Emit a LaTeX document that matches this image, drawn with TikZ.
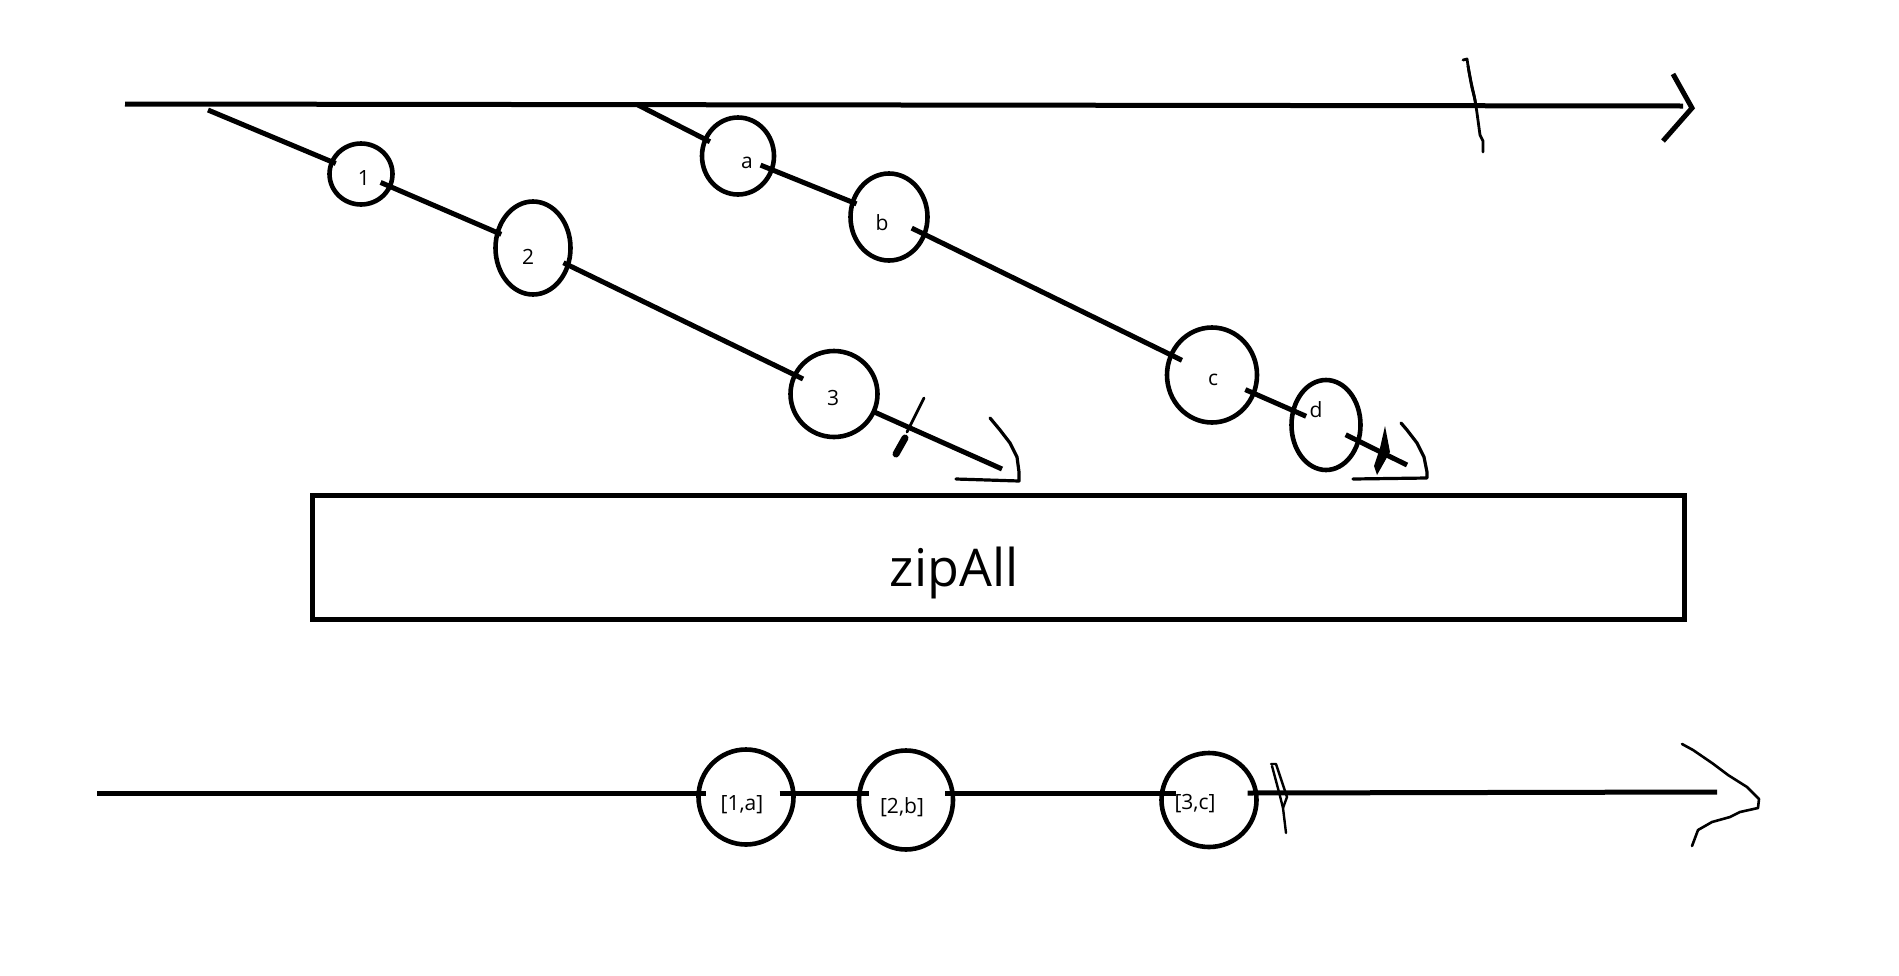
\documentclass[tikz,border=0pt]{standalone}
\usepackage{fontspec}
\setmainfont{Open Sans}
\usetikzlibrary{shapes.geometric}
\begin{document}
\begin{tikzpicture}[x=1pt,y=-1pt,
  flow/.style={line width=5pt},
  poke/.style 2 args={shorten <=-#1pt, shorten >=-#2pt},
  marble/.style={draw, ellipse, line width=4.6pt, inner sep=0pt, outer sep=0pt},
  lab/.style={anchor=base, inner sep=0pt, font=\fontsize{21}{25}\selectfont},
  pen/.style={line width=2.8pt, line join=round, line cap=round},
]
\fill[white] (0,0) rectangle (1899,975);
\useasboundingbox (0,0) rectangle (1899,975);

% top time line
\coordinate (ts) at (125,104);
\coordinate (te) at (1683,106);
\draw[flow] (ts) -- (te);
\draw[line width=5pt, line join=miter] (1673,74) -- (1692,108) -- (1663,141);
\draw[pen] (1463,60) -- (1467,59) -- (1469,72) -- (1472,88) -- (1475,100) -- (1477,113) -- (1480,135) -- (1483,141) -- (1483,152);
\draw[pen] (1468,66) -- (1471,82) -- (1474,95) -- (1476,106);

% stream 1
\coordinate (s1) at (208,110);
\coordinate (e1) at (1002,469);
\node[marble, minimum width=63pt, minimum height=61pt] (n1) at (361,174) {};
\node[marble, minimum width=75pt, minimum height=93pt] (n2) at (533,248) {};
\node[marble, minimum width=87pt, minimum height=86pt] (n3) at (834,394) {};
\node[lab] (l1) at (364,185) {1};
\node[lab] (l2) at (528,264) {2};
\node[lab] (l3) at (833,405) {3};
\draw[flow, poke={0}{4}] (s1) -- (n1);
\draw[flow, poke={10}{4}] (n1) -- (n2);
\draw[flow, poke={5}{9}] (n2) -- (n3);
\draw[flow] (n3) -- (e1);
\draw[pen] (924,398) -- (915,416) -- (907,432);
\draw[line width=7pt, line cap=round] (905,438) -- (896,454);
\draw[pen, line width=3.2pt] (990,418) -- (1000,430) -- (1010,443) -- (1017,457) -- (1019,472) -- (1019,481) -- (956,479);

% stream 2
\coordinate (s2) at (638,105);
\coordinate (e2) at (1407,465);
\node[marble, minimum width=72pt, minimum height=77pt] (na) at (738,156) {};
\node[marble, minimum width=77pt, minimum height=87pt] (nb) at (889,217) {};
\node[marble, minimum width=90pt, minimum height=95pt] (nc) at (1212,375) {};
\node[marble, minimum width=69pt, minimum height=90pt] (nd) at (1326,425) {};
\node[lab] (la) at (747,168) {a};
\node[lab] (lb) at (882,230) {b};
\node[lab] (lc) at (1213,385) {c};
\node[lab] (ld) at (1316,417) {d};
\draw[flow, poke={0}{5}] (s2) -- (na);
\draw[flow, poke={12}{4}] (na) -- (nb);
\draw[flow, poke={14}{12}] (nb) -- (nc);
\draw[flow, poke={9}{14}] (nc) -- (nd);
\draw[flow, poke={14}{0}] (nd) -- (e2);
\fill (1385,426) -- (1390,452) -- (1377,475) -- (1374,466) -- (1380,448) -- cycle;
\draw[pen, line width=3.2pt] (1401,423) -- (1407,430) -- (1417,443) -- (1424,457) -- (1427,472) -- (1427,478) -- (1353,479);

% operator box
\node[draw, line width=5pt, minimum width=1372pt, minimum height=124pt, inner sep=0pt] (box) at (998,557) {};
\node[anchor=base, inner sep=0pt, font=\fontsize{52}{60}\selectfont] (zlab) at (954,586) {zipAll};

% result stream
\coordinate (bs) at (97,793);
\coordinate (be) at (1717,792);
\node[marble, minimum width=95pt, minimum height=95pt] (b1) at (746,797) {};
\node[marble, minimum width=94pt, minimum height=99pt] (b2) at (906,800) {};
\node[marble, minimum width=95pt, minimum height=94pt] (b3) at (1209,800) {};
\node[lab] (lb1) at (742,810) {[1,a]};
\node[lab] (lb2) at (902,813) {[2,b]};
\node[lab] (lb3) at (1195,809) {[3,c]};
\draw[flow] (bs) -- ([xshift=7pt]b1.west |- bs);
\draw[flow] ([xshift=-14pt]b1.east |- bs) -- ([xshift=10pt]b2.west |- bs);
\draw[flow] ([xshift=-8pt]b2.east |- bs) -- ([xshift=14pt]b3.west |- bs);
\draw[flow] ([xshift=-9pt]b3.east |- bs) -- (be);
\draw[pen, line width=2.4pt] (1271,764) -- (1276,764) -- (1287,797) -- (1283,808) -- (1286,833);
\draw[pen, line width=2.4pt] (1272,766) -- (1280,796) -- (1283,808);
\draw[pen, line width=2.6pt] (1682,744) -- (1693,750) -- (1712,763) -- (1728,775) -- (1747,787) -- (1759,799) -- (1758,808) -- (1740,812) -- (1730,817) -- (1712,822) -- (1698,830) -- (1692,846);
\end{tikzpicture}
\end{document}
